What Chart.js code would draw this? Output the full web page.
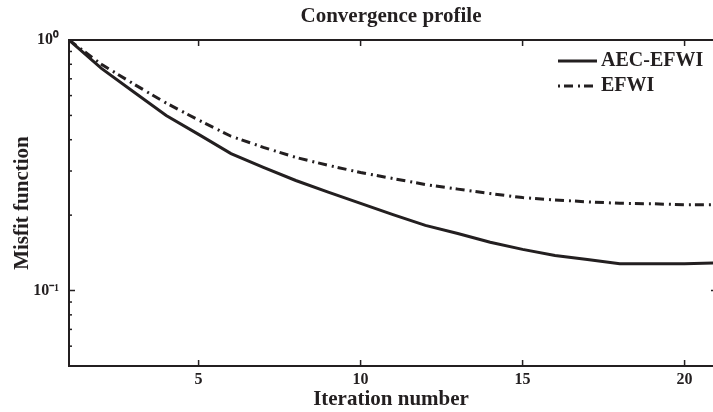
<!DOCTYPE html>
<html>
<head>
<meta charset="utf-8">
<style>
  html, body { margin: 0; padding: 0; background: #fff; }
  #wrap { width: 713px; height: 412px; position: relative; }
</style>
<script src="https://cdn.jsdelivr.net/npm/chart.js@4/dist/chart.umd.min.js"></script>
</head>
<body>
<div id="wrap"><canvas id="c" width="713" height="412"></canvas></div>
<script>
// ---- data ----
const iterations = [1,2,3,4,5,6,7,8,9,10,11,12,13,14,15,16,17,18,19,20,21];
const aecEfwi = [1.0,0.77,0.62,0.50,0.42,0.352,0.31,0.275,0.247,0.223,0.201,0.182,0.169,0.156,0.146,0.138,0.133,0.128,0.128,0.128,0.129];
const efwi    = [1.0,0.80,0.667,0.56,0.479,0.413,0.373,0.34,0.316,0.296,0.28,0.265,0.254,0.244,0.235,0.23,0.226,0.223,0.222,0.22,0.22];
const xTicks = [5,10,15,20];
const yTicks = [0.1, 1];
const yTickLabels = {'0.1': '10\u207B\u00B9', '1': '10\u2070'};
const seriesNames = ['AEC-EFWI', 'EFWI'];

const INK = '#231f20';
const SERIF = "'Liberation Serif', 'Times New Roman', serif";

const toPts = (ys) => iterations.map((x, i) => ({x, y: ys[i]}));

// frame, inward ticks, minor log ticks, legend
const framePlugin = {
  id: 'frame',
  afterDraw(chart) {
    const ctx = chart.ctx;
    const a = chart.chartArea;
    const xs = chart.scales.x, ys = chart.scales.y;
    const rightX = xs.getPixelForValue(21);
    ctx.save();
    ctx.strokeStyle = INK;
    ctx.lineWidth = 2;
    // top border
    ctx.beginPath();
    ctx.moveTo(a.left - 1, a.top);
    ctx.lineTo(chart.width, a.top);
    ctx.stroke();
    ctx.lineWidth = 1.5;
    // x ticks (bottom up, top down)
    xTicks.forEach(v => {
      const px = xs.getPixelForValue(v);
      ctx.beginPath();
      ctx.moveTo(px, a.bottom); ctx.lineTo(px, a.bottom - 6);
      ctx.moveTo(px, a.top); ctx.lineTo(px, a.top + 6);
      ctx.stroke();
    });
    // y major ticks
    yTicks.forEach(v => {
      const py = ys.getPixelForValue(v);
      ctx.beginPath();
      ctx.moveTo(a.left, py); ctx.lineTo(a.left + 6, py);
      ctx.moveTo(rightX, py); ctx.lineTo(rightX - 6, py);
      ctx.stroke();
    });
    // y minor ticks
    const minors = [0.06,0.07,0.08,0.09,0.2,0.3,0.4,0.5,0.6,0.7,0.8,0.9];
    minors.forEach(v => {
      const py = ys.getPixelForValue(v);
      ctx.beginPath();
      ctx.moveTo(a.left, py); ctx.lineTo(a.left + 3, py);
      ctx.stroke();
    });
    // legend
    const lx0 = 558, tx = 601;
    const rows = [61, 86];
    chart.data.datasets.forEach((ds, i) => {
      const y = rows[i];
      ctx.strokeStyle = ds.borderColor;
      ctx.lineWidth = ds.borderWidth;
      ctx.setLineDash(i === 0 ? [] : [2, 4, 9, 5]);
      ctx.beginPath();
      ctx.moveTo(lx0, y);
      ctx.lineTo(i === 0 ? 597 : 593, y);
      ctx.stroke();
      ctx.setLineDash([]);
      ctx.fillStyle = INK;
      ctx.font = "bold 20px " + SERIF;
      ctx.textAlign = 'left';
      ctx.textBaseline = 'middle';
      ctx.fillText(ds.label, tx, y);
    });
    ctx.restore();
  }
};

new Chart(document.getElementById('c'), {
  type: 'line',
  data: {
    datasets: [
      {
        label: seriesNames[0],
        data: toPts(aecEfwi),
        borderColor: INK,
        borderWidth: 3,
        pointRadius: 0,
        tension: 0,
        fill: false
      },
      {
        label: seriesNames[1],
        data: toPts(efwi),
        borderColor: INK,
        borderWidth: 3,
        borderDash: [9, 5, 2, 4],
        pointRadius: 0,
        tension: 0,
        fill: false
      }
    ]
  },
  options: {
    responsive: false,
    animation: false,
    devicePixelRatio: 1,
    layout: { padding: { left: 0, right: 0, top: 0, bottom: 0 } },
    plugins: {
      legend: { display: false },
      tooltip: { enabled: false },
      title: {
        display: true,
        fullSize: false,
        text: 'Convergence profile',
        color: INK,
        font: { family: SERIF, size: 21, weight: 'bold' },
        padding: { top: 4, bottom: 10.8 }
      }
    },
    scales: {
      x: {
        type: 'linear',
        min: 1,
        max: 20.877,
        afterBuildTicks: (s) => { s.ticks = xTicks.map(v => ({value: v})); },
        afterFit: (s) => { s.height = 46; },
        grid: { display: false, drawTicks: false },
        border: { display: true, color: INK, width: 2 },
        ticks: {
          color: INK,
          padding: 4,
          maxRotation: 0,
          font: { family: SERIF, size: 16, weight: 'bold' }
        },
        title: {
          display: true,
          text: 'Iteration number',
          color: INK,
          font: { family: SERIF, size: 21, weight: 'bold' },
          padding: { top: 0, bottom: 0 }
        }
      },
      y: {
        type: 'logarithmic',
        min: 0.05,
        max: 1,
        afterBuildTicks: (s) => { s.ticks = yTicks.map(v => ({value: v})); },
        afterFit: (s) => { s.width = 69; },
        grid: { display: false, drawTicks: false },
        border: { display: true, color: INK, width: 2 },
        ticks: {
          color: INK,
          padding: 10,
          font: { family: SERIF, size: 16, weight: 'bold' },
          callback: (v) => yTickLabels[String(v)] || ''
        },
        title: {
          display: true,
          text: 'Misfit function',
          color: INK,
          font: { family: SERIF, size: 21, weight: 'bold' },
          padding: { top: 10, bottom: 0 }
        }
      }
    }
  },
  plugins: [framePlugin]
});
</script>
</body>
</html>
